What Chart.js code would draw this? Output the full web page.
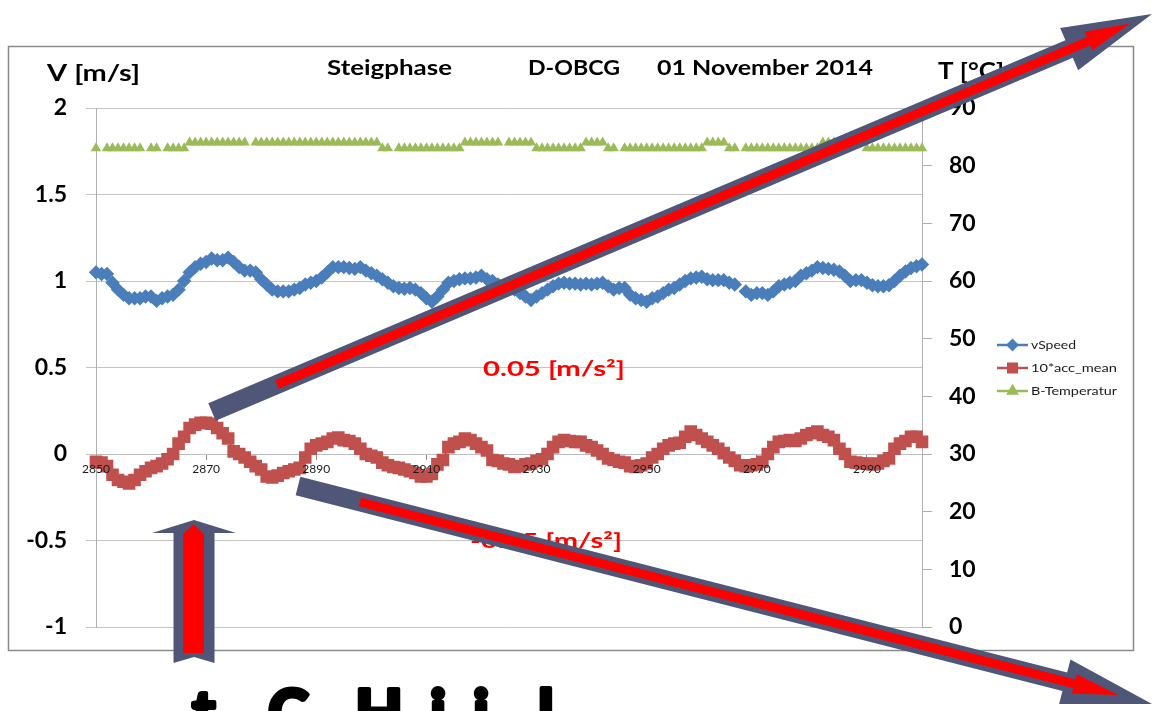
<!DOCTYPE html>
<html>
<head>
<meta charset="utf-8">
<script src="https://cdn.jsdelivr.net/npm/chart.js@4.4.0/dist/chart.umd.min.js"></script>
<style>
  html, body { margin: 0; padding: 0; background: #fff; }
  #chartBox { width: 1155px; height: 711px; }
</style>
</head>
<body>
<div id="chartBox"><canvas id="chart01" width="1155" height="711"></canvas></div>
<script>
// x: time [s]
const aSeconds = [
  2850, 2851, 2852, 2853, 2854, 2855, 2856, 2857, 2858, 2859,
  2860, 2861, 2862, 2863, 2864, 2865, 2866, 2867, 2868, 2869,
  2870, 2871, 2872, 2873, 2874, 2875, 2876, 2877, 2878, 2879,
  2880, 2881, 2882, 2883, 2884, 2885, 2886, 2887, 2888, 2889,
  2890, 2891, 2892, 2893, 2894, 2895, 2896, 2897, 2898, 2899,
  2900, 2901, 2902, 2903, 2904, 2905, 2906, 2907, 2908, 2909,
  2910, 2911, 2912, 2913, 2914, 2915, 2916, 2917, 2918, 2919,
  2920, 2921, 2922, 2923, 2924, 2925, 2926, 2927, 2928, 2929,
  2930, 2931, 2932, 2933, 2934, 2935, 2936, 2937, 2938, 2939,
  2940, 2941, 2942, 2943, 2944, 2945, 2946, 2947, 2948, 2949,
  2950, 2951, 2952, 2953, 2954, 2955, 2956, 2957, 2958, 2959,
  2960, 2961, 2962, 2963, 2964, 2965, 2966, 2967, 2968, 2969,
  2970, 2971, 2972, 2973, 2974, 2975, 2976, 2977, 2978, 2979,
  2980, 2981, 2982, 2983, 2984, 2985, 2986, 2987, 2988, 2989,
  2990, 2991, 2992, 2993, 2994, 2995, 2996, 2997, 2998, 2999,
  3000
];

// vSpeed [m/s]
const aVSpeed = [
  1.05, 1.04, 1.04, 0.99, 0.95, 0.92, 0.90, 0.90, 0.90, 0.91,
  0.91, 0.885, 0.90, 0.91, 0.92, 0.95, 1.00, 1.05, 1.08, 1.10,
  1.11, 1.13, 1.12, 1.12, 1.135, 1.11, 1.08, 1.06, 1.06, 1.05,
  1.01, 0.98, 0.95, 0.94, 0.94, 0.94, 0.95, 0.96, 0.98, 0.99,
  1.00, 1.02, 1.05, 1.08, 1.08, 1.08, 1.075, 1.07, 1.08, 1.06,
  1.045, 1.03, 1.01, 0.99, 0.97, 0.96, 0.955, 0.96, 0.95, 0.93,
  0.90, 0.88, 0.91, 0.95, 0.99, 1.00, 1.01, 1.015, 1.015, 1.02,
  1.03, 1.01, 1.00, 0.98, 0.97, 0.96, 0.95, 0.93, 0.91, 0.89,
  0.91, 0.93, 0.95, 0.97, 0.985, 0.99, 0.985, 0.985, 0.98, 0.985,
  0.98, 0.985, 0.99, 0.97, 0.95, 0.96, 0.96, 0.92, 0.90, 0.89,
  0.88, 0.90, 0.91, 0.93, 0.95, 0.96, 0.98, 1.00, 1.015, 1.02,
  1.025, 1.01, 1.005, 1.005, 1.005, 0.99, 0.98, null, 0.94, 0.92,
  0.93, 0.93, 0.92, 0.94, 0.97, 0.98, 0.99, 1.00, 1.03, 1.045,
  1.06, 1.08, 1.075, 1.07, 1.065, 1.055, 1.03, 1.00, 1.005, 1.005,
  0.99, 0.975, 0.97, 0.97, 0.975, 1.00, 1.03, 1.055, 1.075, 1.085,
  1.095
];

// 10*acc_mean [m/s²]
const aAccMean = [
  -0.045, -0.05, -0.07, -0.12, -0.15, -0.16, -0.17, -0.15, -0.12, -0.10,
  -0.08, -0.07, -0.055, -0.03, 0.00, 0.06, 0.10, 0.15, 0.17, 0.18,
  0.18, 0.175, 0.15, 0.12, 0.09, 0.015, 0.00, -0.02, -0.045, -0.07,
  -0.09, -0.13, -0.135, -0.125, -0.11, -0.10, -0.09, -0.08, -0.02, 0.03,
  0.05, 0.06, 0.07, 0.09, 0.095, 0.08, 0.075, 0.06, 0.03, 0.00,
  -0.01, -0.02, -0.05, -0.065, -0.075, -0.08, -0.09, -0.10, -0.11, -0.13,
  -0.13, -0.115, -0.06, -0.035, 0.04, 0.06, 0.07, 0.09, 0.08, 0.06,
  0.04, 0.02, -0.035, -0.04, -0.055, -0.06, -0.075, -0.07, -0.06, -0.055,
  -0.04, -0.03, 0.00, 0.04, 0.07, 0.08, 0.075, 0.07, 0.07, 0.05,
  0.04, 0.02, 0.00, -0.025, -0.035, -0.045, -0.05, -0.07, -0.075, -0.065,
  -0.055, -0.02, 0.00, 0.03, 0.05, 0.06, 0.065, 0.10, 0.13, 0.11,
  0.09, 0.07, 0.05, 0.03, 0.005, -0.02, -0.04, -0.065, -0.07, -0.065,
  -0.06, -0.045, 0.00, 0.04, 0.07, 0.075, 0.08, 0.075, 0.09, 0.11,
  0.12, 0.13, 0.11, 0.10, 0.08, 0.03, 0.00, -0.045, -0.05, -0.055,
  -0.055, -0.06, -0.055, -0.04, -0.025, 0.03, 0.06, 0.075, 0.10, 0.10,
  0.07
];

// B-Temperatur [°C]
const aTemp = [
  83, null, 83, 83, 83, 83, 83, 83, 83, null,
  83, 83, null, 83, 83, 83, 83, 84, 84, 84,
  84, 84, 84, 84, 84, 84, 84, 84, null, 84,
  84, 84, 84, 84, 84, 84, 84, 84, 84, 84,
  84, 84, 84, 84, 84, 84, 84, 84, 84, 84,
  84, 84, 83, 83, null, 83, 83, 83, 83, 83,
  83, 83, 83, 83, 83, 83, 83, 84, 84, 84,
  84, 84, 84, 84, null, 84, 84, 84, 84, 84,
  83, 83, 83, 83, 83, 83, 83, 83, 83, 84,
  84, 84, 84, 83, 83, null, 83, 83, 83, 83,
  83, 83, 83, 83, 83, 83, 83, 83, 83, 83,
  83, 84, 84, 84, 84, 83, 83, null, 83, 83,
  83, 83, 83, 83, 83, 83, 83, 83, 83, 83,
  83, 83, 84, 84, 84, 84, 84, 84, 84, 84,
  83, 83, 83, 83, 83, 83, 83, 83, 83, 83,
  83
];

const aSeriesNames = ["vSpeed", "10*acc_mean", "B-Temperatur"];
const iLabelEvery = 20;

const FONT = "Lato, 'Open Sans', sans-serif";

// stretched text (the slide picture is wider than the font)
function drawText(ctx, text, x, y, size, width, color, weight) {
  ctx.save();
  ctx.font = (weight || "bold") + " " + size + "px " + FONT;
  const w = ctx.measureText(text).width;
  ctx.translate(x, y);
  ctx.scale(width / w, 1);
  ctx.fillStyle = color;
  ctx.textAlign = "left";
  ctx.textBaseline = "middle";
  ctx.fillText(text, 0, 0);
  ctx.restore();
}

function arrowPath(ctx, x1, y1, x2, y2, w, hw, hl, notch) {
  const len = Math.hypot(x2 - x1, y2 - y1);
  const ux = (x2 - x1) / len, uy = (y2 - y1) / len;
  const nx = -uy, ny = ux;
  const bx = x2 - ux * hl, by = y2 - uy * hl;
  ctx.beginPath();
  ctx.moveTo(x1 + nx * w / 2, y1 + ny * w / 2);
  ctx.lineTo(bx + nx * w / 2, by + ny * w / 2);
  ctx.lineTo(bx + nx * hw / 2, by + ny * hw / 2);
  ctx.lineTo(x2, y2);
  ctx.lineTo(bx - nx * hw / 2, by - ny * hw / 2);
  ctx.lineTo(bx - nx * w / 2, by - ny * w / 2);
  ctx.lineTo(x1 - nx * w / 2, y1 - ny * w / 2);
  if (notch) ctx.lineTo(x1 + ux * notch, y1 + uy * notch);
  ctx.closePath();
}

function drawArrow(ctx, a) {
  ctx.save();
  ctx.fillStyle = "#4f5677";
  arrowPath(ctx, a.x1, a.y1, a.x2, a.y2, a.w, a.hw, a.hl, a.notch);
  ctx.fill();
  ctx.fillStyle = "#ff0000";
  arrowPath(ctx, a.rx1, a.ry1, a.rx2, a.ry2, a.rw, a.rhw, a.rhl, 0);
  ctx.fill();
  ctx.restore();
}

const slideOverlay = {
  id: "slideOverlay",
  beforeDraw(chart) {
    const ctx = chart.ctx;
    ctx.save();
    ctx.fillStyle = "#fff";
    ctx.fillRect(0, 0, chart.width, chart.height);
    ctx.strokeStyle = "#8a8a8a";
    ctx.lineWidth = 1.5;
    ctx.strokeRect(8.5, 46.5, 1125, 604);
    ctx.restore();
  },
  afterDraw(chart) {
    const ctx = chart.ctx;

    // titles
    drawText(ctx, "Steigphase", 327, 68, 21, 125, "#000");
    drawText(ctx, "D-OBCG", 528, 68, 21, 92, "#000");
    drawText(ctx, "01 November 2014", 657, 68, 21, 216, "#000");
    drawText(ctx, "V [m/s]", 47, 74, 23, 93, "#000");
    drawText(ctx, "T [°C]", 938, 72, 23, 66, "#000");

    // legend
    const legendX = 997, legendY = [345, 368, 391];
    chart.data.datasets.forEach((ds, i) => {
      const y = legendY[i];
      ctx.save();
      ctx.strokeStyle = ds.borderColor;
      ctx.lineWidth = 2.5;
      ctx.beginPath();
      ctx.moveTo(legendX, y);
      ctx.lineTo(legendX + 31, y);
      ctx.stroke();
      ctx.fillStyle = ds.pointBackgroundColor;
      ctx.strokeStyle = ds.pointBackgroundColor;
      Chart.helpers.drawPoint(ctx, {
        pointStyle: ds.pointStyle,
        radius: ds.pointRadius * 0.8,
        rotation: 0,
        borderWidth: 1
      }, legendX + 15.5, y);
      ctx.restore();
      drawText(ctx, ds.label, legendX + 34, y, 12, [45, 86, 86][i], "#1a1a1a", "normal");
    });

    // red notes
    drawText(ctx, "0.05 [m/s²]", 483, 369, 21, 142, "#ff0000");
    drawText(ctx, "-0.05 [m/s²]", 470, 541, 21, 152, "#ff0000");

    // big slide text below the chart, mostly cut off by the picture edge
    ctx.save();
    ctx.font = "900 62px " + FONT;
    ctx.fillStyle = "#000";
    ctx.strokeStyle = "#000";
    ctx.lineWidth = 4;
    ctx.lineJoin = "round";
    ctx.textBaseline = "alphabetic";
    [["t", 192], ["C", 268], ["H", 355], ["i", 430], ["i", 473], ["l", 538]].forEach(([ch, x]) => {
      ctx.strokeText(ch, x, 735);
      ctx.fillText(ch, x, 735);
    });
    ctx.restore();

    // arrows
    drawArrow(ctx, {
      x1: 212, y1: 412, x2: 1152, y2: 14, w: 19, hw: 46, hl: 90,
      rx1: 277, ry1: 384.5, rx2: 1130, ry2: 23.5, rw: 9, rhw: 20, rhl: 45
    });
    drawArrow(ctx, {
      x1: 298, y1: 486, x2: 1152, y2: 704, w: 19, hw: 46, hl: 90,
      rx1: 360, ry1: 502, rx2: 1118, ry2: 695, rw: 9, rhw: 20, rhl: 45
    });
    drawArrow(ctx, {
      x1: 194, y1: 663, x2: 194, y2: 520, w: 41, hw: 84, hl: 13, notch: 6,
      rx1: 193.5, ry1: 653, rx2: 193.5, ry2: 524, rw: 21, rhw: 21, rhl: 10
    });
  }
};

const ctx = document.getElementById("chart01");

const data = {
  labels: aSeconds,
  datasets: [
    {
      label: aSeriesNames[0],
      data: aVSpeed,
      yAxisID: "y",
      borderColor: "#4a7ebb",
      backgroundColor: "#4a7ebb",
      pointBackgroundColor: "#4a7ebb",
      pointBorderColor: "#4a7ebb",
      pointStyle: "rectRot",
      pointRadius: 5.8,
      borderWidth: 2,
      spanGaps: false,
      clip: false,
      order: 2
    },
    {
      label: aSeriesNames[1],
      data: aAccMean,
      yAxisID: "y",
      borderColor: "#c0504d",
      backgroundColor: "#c0504d",
      pointBackgroundColor: "#c0504d",
      pointBorderColor: "#c0504d",
      pointStyle: "rect",
      pointRadius: 7.5,
      borderWidth: 2,
      clip: false,
      order: 1
    },
    {
      label: aSeriesNames[2],
      data: aTemp,
      yAxisID: "y1",
      borderColor: "#9bbb59",
      backgroundColor: "#9bbb59",
      pointBackgroundColor: "#9bbb59",
      pointBorderColor: "#9bbb59",
      pointStyle: "triangle",
      pointRadius: 6,
      borderWidth: 0,
      showLine: false,
      clip: false,
      order: 3
    }
  ]
};

const options = {
  responsive: false,
  animation: false,
  devicePixelRatio: 1,
  events: [],
  layout: { padding: { top: 108, bottom: 84, left: 0, right: 0 } },
  plugins: {
    legend: { display: false },
    title: { display: false },
    tooltip: { enabled: false }
  },
  elements: { line: { tension: 0 }, point: { borderWidth: 1 } },
  scales: {
    x: {
      type: "category",
      position: { y: 0 },
      offset: false,
      grid: {
        display: true,
        drawOnChartArea: false,
        drawTicks: true,
        tickLength: 5,
        color: (c) => (c.index % iLabelEvery === 0 ? "#8c8c8c" : "rgba(0,0,0,0)")
      },
      border: { display: true, color: "#bdbdbd" },
      ticks: {
        z: 1,
        autoSkip: false,
        maxRotation: 0,
        minRotation: 0,
        padding: 3,
        color: "#1a1a1a",
        font: { family: FONT, size: 12 },
        callback: function (val, index) {
          return index % iLabelEvery === 0 ? this.getLabelForValue(val) : "";
        }
      }
    },
    y: {
      type: "linear",
      position: "left",
      min: -1,
      max: 2,
      afterFit: (scale) => { scale.width = 96; },
      grid: { color: "#c4c4c4", lineWidth: 1, tickLength: 10 },
      border: { display: true, color: "#b0b0b0" },
      ticks: {
        stepSize: 0.5,
        padding: 19,
        color: "#000",
        font: { family: FONT, size: 23, weight: "bold" },
        callback: (v) => String(Number(v))
      }
    },
    y1: {
      type: "linear",
      position: "right",
      min: 0,
      max: 90,
      afterFit: (scale) => { scale.width = 233; },
      grid: { drawOnChartArea: false, color: "#b0b0b0", tickLength: 10 },
      border: { display: true, color: "#b0b0b0" },
      ticks: {
        stepSize: 10,
        padding: 17,
        color: "#000",
        font: { family: FONT, size: 23, weight: "bold" }
      }
    }
  }
};

new Chart(ctx, {
  type: "line",
  data: data,
  options: options,
  plugins: [slideOverlay]
});
</script>
</body>
</html>
